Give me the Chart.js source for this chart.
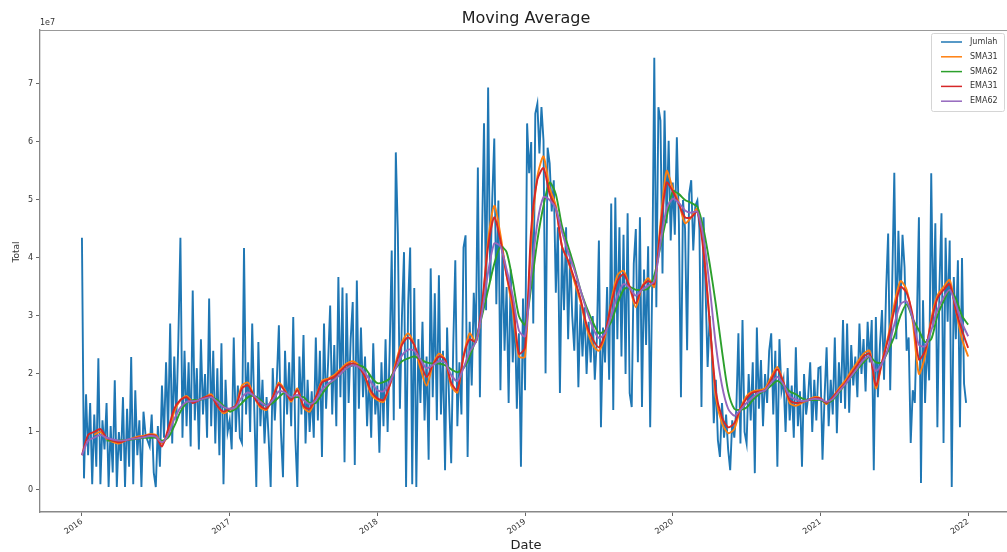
<!DOCTYPE html>
<html>
<head>
<meta charset="utf-8">
<script src="https://cdn.jsdelivr.net/npm/chart.js@4.4.0/dist/chart.umd.min.js"></script>
<style>
  html, body { margin: 0; padding: 0; background: #fff; }
  #wrap { width: 1007px; height: 552px; }
</style>
</head>
<body>
<div id="wrap"><canvas id="chart" width="1007" height="552"></canvas></div>
<script>
// Jumlah in units of 1e7, six readings per month
var jumlah2016 = [
    4.35, 0.2, 1.65, 0.6, 1.5, 0.1,
    1.3, 0.4, 2.27, 0.1, 1.2, 0.7,
    1.5, 0.05, 1.1, 0.3, 1.89, 0.05,
    1.0, 0.5, 1.6, 0.05, 1.4, 0.4,
    2.29, 0.1, 1.72, 0.6, 1.2, 0.05,
    1.35, 0.95, 0.85, 0.75, 1.3, 0.3,
    0.05, 1.1, 0.4, 1.8, 0.9, 2.2,
    1.0, 2.87, 0.8, 2.3, 1.2, 2.6,
    4.35, 0.9, 2.4, 1.1, 2.2, 0.75,
    3.44, 1.2, 2.1, 0.7, 2.6, 1.3,
    2.0, 0.9, 3.3, 1.1, 2.4, 0.8,
    2.1, 0.6, 2.53, 0.1, 1.9, 1.0
];
var jumlah2017 = [
    1.2, 0.7, 2.63, 1.0, 1.8, 0.9,
    0.81, 4.17, 1.3, 2.2, 1.0, 2.87,
    1.4, 0.05, 2.55, 1.1, 1.9, 0.8,
    1.6, 0.9, 0.05, 2.1, 1.2, 1.9,
    2.84, 1.0, 0.22, 2.4, 1.3, 2.2,
    1.1, 2.98, 0.9, 0.05, 2.3, 1.3,
    2.67, 0.8, 1.9, 1.0, 1.7, 0.9,
    2.63, 1.2, 2.4, 0.57, 2.87, 1.4,
    2.2, 3.18, 1.3, 2.5, 1.1, 3.67,
    1.6, 3.49, 0.48, 3.39, 1.5, 2.6,
    3.24, 0.43, 3.61, 1.4, 2.8, 1.6,
    2.3, 1.1, 2.0, 0.9, 2.53, 1.3
];
var jumlah2018 = [
    1.8, 0.64, 2.2, 1.1, 2.6, 1.0,
    2.4, 4.13, 1.2, 5.82, 4.42, 1.4,
    3.0, 4.1, 0.05, 3.2, 4.18, 0.1,
    3.48, 0.05, 2.6, 1.5, 2.9, 1.2,
    2.3, 0.52, 3.82, 1.6, 3.39, 1.2,
    3.7, 1.3, 2.4, 0.34, 2.8, 1.5,
    0.46, 2.5, 3.96, 1.1, 2.2, 1.3,
    4.18, 4.39, 0.57, 2.9, 1.8, 3.4,
    2.6, 5.56, 1.6, 4.3, 6.32, 3.1,
    6.94, 3.6, 5.0, 6.06, 3.2, 4.99,
    1.72, 4.2, 2.4, 3.5, 1.5, 3.8,
    2.2, 3.1, 1.4, 2.7, 0.4, 3.3
];
var jumlah2019 = [
    1.72, 6.32, 5.46, 6.0, 2.87, 6.49,
    6.66, 5.8, 6.6, 6.02, 2.01, 5.9,
    5.63, 4.8, 5.34, 3.4, 4.53, 1.67,
    4.2, 3.1, 4.53, 2.6, 4.08, 3.0,
    2.4, 3.61, 1.77, 3.2, 2.3, 3.15,
    2.0, 2.9, 2.2, 3.0, 1.9, 2.6,
    4.3, 1.08, 2.8, 2.2, 3.5, 1.9,
    4.94, 1.38, 5.04, 2.6, 4.53, 2.3,
    4.4, 2.0, 4.77, 1.67, 1.43, 3.9,
    4.5, 2.2, 4.7, 1.43, 3.8, 2.5,
    4.2, 1.08, 3.6, 7.45, 3.15, 6.6,
    6.37, 3.73, 6.54, 4.6, 6.02, 4.3
];
var jumlah2020 = [
    5.3, 4.4, 6.08, 4.6, 1.6, 5.0,
    4.5, 2.41, 5.1, 5.34, 4.13, 4.9,
    4.99, 4.5, 1.43, 4.7, 3.44, 2.12,
    3.0, 2.4, 1.15, 1.9, 0.86, 0.57,
    1.5, 0.9, 1.3, 0.7, 0.34, 1.2,
    0.9, 1.4, 2.7, 0.8, 2.93, 1.0,
    0.8, 2.0, 1.2, 2.2, 0.29, 2.8,
    1.4, 2.24, 1.1, 2.0, 1.5, 2.4,
    2.7, 1.3, 2.4, 0.4, 2.6, 1.7,
    1.9, 1.0, 2.1, 1.2, 1.8, 0.9,
    2.46, 1.1, 1.7, 0.4, 2.0, 1.3,
    1.6, 2.2, 1.0, 1.9, 1.2, 2.1
];
var jumlah2021 = [
    2.12, 0.52, 1.6, 2.46, 1.1, 1.9,
    1.3, 2.63, 0.98, 2.2, 1.5, 2.93,
    1.4, 2.87, 1.33, 2.5, 1.8, 2.3,
    1.6, 2.87, 2.0, 2.6, 1.7, 2.9,
    2.2, 2.93, 0.34, 2.98, 1.6, 2.5,
    3.1, 1.9, 3.44, 4.42, 1.72, 3.6,
    5.47, 2.6, 4.47, 3.2, 4.4, 3.84,
    2.4, 2.63, 0.81, 1.72, 1.5, 2.9,
    4.7, 0.12, 3.27, 1.5, 2.6, 1.89,
    5.46, 2.8, 4.6, 1.08, 3.5, 4.77,
    0.81, 4.35, 2.9, 4.3, 0.05, 3.67,
    2.6, 3.96, 1.08, 4.0, 1.83, 1.5
];
var years = [2016, 2017, 2018, 2019, 2020, 2021];
var jumlahByYear = [jumlah2016, jumlah2017, jumlah2018, jumlah2019, jumlah2020, jumlah2021];

// Moving averages, two readings per month from Jan 2016 to Jan 2022 (units of 1e7)
var sma31 = [
    null, null, 0.95, 1.0, 0.88, 0.83, 0.8, 0.85, 0.88, 0.92, 0.93, 0.96, 0.95, 0.8, 0.95, 1.35, 1.55, 1.62, 1.52, 1.55, 1.6, 1.65, 1.45, 1.32,
    1.38, 1.45, 1.8, 1.85, 1.6, 1.42, 1.38, 1.6, 1.85, 1.72, 1.52, 1.75, 1.42, 1.35, 1.6, 1.88, 1.92, 1.98, 2.08, 2.18, 2.22, 2.15, 1.95, 1.65,
    1.55, 1.52, 1.8, 2.2, 2.55, 2.7, 2.5, 2.1, 1.8, 2.15, 2.35, 2.25, 1.8, 1.68, 2.3, 2.7, 2.55, 3.1, 4.3, 4.9, 4.4, 3.7, 3.1, 2.3,
    2.3, 4.3, 5.4, 5.75, 5.2, 4.9, 4.2, 3.95, 3.6, 3.25, 2.8, 2.5, 2.4, 2.65, 3.25, 3.7, 3.78, 3.5, 3.15, 3.5, 3.65, 3.5, 4.6, 5.5,
    5.2, 4.95, 4.6, 4.7, 4.85, 4.2, 2.9, 1.6, 1.15, 0.98, 1.05, 1.4, 1.62, 1.7, 1.72, 1.75, 1.95, 2.12, 1.85, 1.5, 1.45, 1.5, 1.55, 1.6,
    1.58, 1.48, 1.6, 1.75, 1.88, 2.05, 2.2, 2.35, 2.4, 1.75, 2.2, 2.65, 3.2, 3.6, 3.45, 2.9, 2.0, 2.3, 2.95, 3.35, 3.5, 3.62, 3.1, 2.6, 2.3
];
var sma62 = [
    null, null, null, null, 0.85, 0.85, 0.85, 0.86, 0.87, 0.88, 0.9, 0.9, 0.9, 0.85, 0.9, 1.1, 1.35, 1.5, 1.55, 1.55, 1.58, 1.6, 1.55, 1.45,
    1.35, 1.4, 1.5, 1.6, 1.62, 1.55, 1.45, 1.5, 1.6, 1.68, 1.6, 1.6, 1.6, 1.5, 1.5, 1.65, 1.8, 1.9, 2.0, 2.1, 2.15, 2.15, 2.1, 1.95,
    1.84, 1.86, 1.92, 2.1, 2.22, 2.27, 2.3, 2.25, 2.2, 2.18, 2.18, 2.15, 2.08, 2.03, 2.1, 2.3, 2.6, 3.0, 3.45, 3.9, 4.2, 4.1, 3.6, 3.0,
    2.85, 3.5, 4.3, 4.9, 5.3, 5.1, 4.55, 4.2, 3.85, 3.45, 3.15, 2.9, 2.7, 2.75, 2.9, 3.2, 3.45, 3.5, 3.45, 3.45, 3.47, 3.7, 4.2, 4.7,
    5.15, 5.1, 5.0, 4.95, 4.88, 4.5, 3.9, 3.2, 2.4, 1.7, 1.4, 1.38, 1.42, 1.55, 1.65, 1.72, 1.8, 1.88, 1.8, 1.7, 1.65, 1.58, 1.55, 1.55,
    1.55, 1.5, 1.55, 1.68, 1.82, 1.95, 2.08, 2.2, 2.3, 2.2, 2.2, 2.4, 2.65, 3.0, 3.2, 2.95, 2.75, 2.55, 2.6, 3.0, 3.25, 3.45, 3.3, 3.0, 2.85
];
var ema31 = [
    0.6, 0.95, 1.0, 1.05, 0.9, 0.85, 0.82, 0.85, 0.88, 0.9, 0.92, 0.95, 0.93, 0.75, 1.05, 1.4, 1.55, 1.6, 1.5, 1.55, 1.6, 1.62, 1.45, 1.35,
    1.4, 1.45, 1.75, 1.8, 1.6, 1.45, 1.4, 1.6, 1.82, 1.7, 1.55, 1.72, 1.45, 1.4, 1.6, 1.85, 1.9, 1.95, 2.05, 2.15, 2.18, 2.12, 1.95, 1.7,
    1.58, 1.55, 1.8, 2.15, 2.5, 2.63, 2.5, 2.2, 1.95, 2.15, 2.3, 2.25, 1.85, 1.72, 2.3, 2.6, 2.55, 3.2, 4.2, 4.7, 4.3, 3.7, 3.22, 2.35,
    2.45, 4.5, 5.35, 5.55, 5.1, 4.85, 4.2, 3.95, 3.65, 3.3, 2.85, 2.6, 2.46, 2.7, 3.2, 3.6, 3.72, 3.5, 3.22, 3.5, 3.6, 3.55, 4.5, 5.3,
    5.15, 4.92, 4.7, 4.7, 4.8, 4.1, 2.9, 1.7, 1.25, 1.08, 1.15, 1.4, 1.58, 1.68, 1.7, 1.72, 1.9, 2.08, 1.85, 1.55, 1.5, 1.52, 1.55, 1.58,
    1.58, 1.5, 1.6, 1.72, 1.84, 2.0, 2.15, 2.3, 2.35, 1.8, 2.2, 2.6, 3.1, 3.5, 3.4, 3.0, 2.25, 2.4, 2.9, 3.3, 3.45, 3.55, 3.1, 2.75, 2.45
];
var ema62 = [
    0.6, 0.85, 0.9, 0.95, 0.9, 0.87, 0.85, 0.86, 0.88, 0.89, 0.91, 0.93, 0.92, 0.82, 0.95, 1.22, 1.42, 1.52, 1.53, 1.55, 1.58, 1.6, 1.52, 1.43,
    1.4, 1.43, 1.6, 1.68, 1.62, 1.52, 1.45, 1.55, 1.7, 1.68, 1.6, 1.64, 1.55, 1.48, 1.55, 1.72, 1.83, 1.9, 2.0, 2.1, 2.15, 2.12, 2.02, 1.85,
    1.72, 1.7, 1.85, 2.1, 2.32, 2.42, 2.4, 2.25, 2.1, 2.15, 2.22, 2.2, 1.98, 1.88, 2.1, 2.38, 2.55, 3.05, 3.75, 4.25, 4.2, 3.8, 3.35, 2.75,
    2.65, 3.7, 4.6, 5.05, 5.0, 4.85, 4.45, 4.1, 3.8, 3.45, 3.1, 2.8, 2.62, 2.7, 3.0, 3.35, 3.55, 3.48, 3.35, 3.45, 3.52, 3.6, 4.25, 4.85,
    5.02, 4.95, 4.82, 4.78, 4.8, 4.35, 3.5, 2.5, 1.8, 1.4, 1.28, 1.38, 1.5, 1.6, 1.68, 1.72, 1.85, 1.95, 1.82, 1.62, 1.56, 1.53, 1.55, 1.57,
    1.56, 1.52, 1.57, 1.7, 1.82, 1.96, 2.1, 2.24, 2.3, 2.05, 2.18, 2.45, 2.85, 3.2, 3.25, 2.95, 2.5, 2.48, 2.75, 3.1, 3.32, 3.45, 3.2, 2.88, 2.65
];

var xTicks = [2016, 2017, 2018, 2019, 2020, 2021, 2022];
var yTicks = [0, 1, 2, 3, 4, 5, 6, 7];

var seriesNames = ['Jumlah', 'SMA31', 'SMA62', 'EMA31', 'EMA62'];
var seriesColors = ['#1f77b4', '#ff7f0e', '#2ca02c', '#d62728', '#9467bd'];

// Jumlah readings spread evenly over each year
var jumlahPoints = [];
jumlahByYear.forEach(function (vals, yi) {
    vals.forEach(function (v, k) {
        jumlahPoints.push({ x: years[yi] + k / vals.length, y: v });
    });
});

// moving averages: one point every half month
function halfMonthPoints(vals) {
    return vals.map(function (v, j) { return { x: 2016 + j / 24, y: v }; });
}

var maLists = [sma31, sma62, ema31, ema62];
var datasets = [{
    label: seriesNames[0],
    data: jumlahPoints,
    borderColor: seriesColors[0],
    borderWidth: 1.9,
    pointRadius: 0,
    tension: 0,
    order: 5
}];
maLists.forEach(function (vals, i) {
    datasets.push({
        label: seriesNames[i + 1],
        data: halfMonthPoints(vals),
        borderColor: seriesColors[i + 1],
        borderWidth: 1.9,
        pointRadius: 0,
        tension: 0.25,
        spanGaps: false,
        order: 4 - i
    });
});

var FONT = '"DejaVu Sans", sans-serif';

// title, offset text, axis labels, top spine and legend, placed like the matplotlib figure
var decor = {
    id: 'decor',
    afterDraw: function (chart) {
        var ctx = chart.ctx, a = chart.chartArea;
        ctx.save();
        ctx.strokeStyle = '#999';
        ctx.lineWidth = 1.2;
        ctx.beginPath();
        ctx.moveTo(a.left, a.top + 0.5);
        ctx.lineTo(a.right, a.top + 0.5);
        ctx.stroke();

        ctx.fillStyle = '#222';
        ctx.textAlign = 'center';
        ctx.textBaseline = 'alphabetic';
        ctx.font = '16px ' + FONT;
        ctx.fillText('Moving Average', 526, 23);

        ctx.font = '13px ' + FONT;
        ctx.fillText('Date', 526, 549);

        ctx.font = '8px ' + FONT;
        ctx.textAlign = 'left';
        ctx.fillStyle = '#333';
        ctx.fillText('1e7', 40, 25);

        ctx.save();
        ctx.translate(19, 252);
        ctx.rotate(-Math.PI / 2);
        ctx.textAlign = 'center';
        ctx.font = '9px ' + FONT;
        ctx.fillText('Total', 0, 0);
        ctx.restore();

        // legend box
        var bx = 931.5, by = 33.5, bw = 73, bh = 78;
        ctx.fillStyle = 'rgba(255,255,255,0.85)';
        ctx.strokeStyle = '#d5d5d5';
        ctx.lineWidth = 1;
        ctx.beginPath();
        ctx.roundRect(bx, by, bw, bh, 2);
        ctx.fill();
        ctx.stroke();
        ctx.font = '8px ' + FONT;
        ctx.textBaseline = 'middle';
        seriesNames.forEach(function (name, i) {
            var yy = 42 + i * 14.8;
            ctx.strokeStyle = seriesColors[i];
            ctx.lineWidth = 1.5;
            ctx.beginPath();
            ctx.moveTo(941, yy);
            ctx.lineTo(962, yy);
            ctx.stroke();
            ctx.fillStyle = '#333';
            ctx.textAlign = 'left';
            ctx.fillText(name, 970, yy);
        });
        ctx.restore();
    }
};

new Chart(document.getElementById('chart'), {
    type: 'line',
    data: { datasets: datasets },
    options: {
        responsive: false,
        animation: false,
        layout: { padding: { top: 30, left: 0, right: 0, bottom: 0 } },
        plugins: {
            legend: { display: false },
            title: { display: false },
            tooltip: { enabled: false }
        },
        scales: {
            x: {
                type: 'linear',
                min: 2015.716,
                max: 2022.263,
                afterFit: function (s) { s.height = 40; },
                afterBuildTicks: function (s) {
                    s.ticks = xTicks.map(function (v) { return { value: v }; });
                },
                grid: { drawOnChartArea: false, drawTicks: true, tickLength: 4, color: '#666' },
                border: { display: true, color: '#888', width: 1.5 },
                ticks: {
                    autoSkip: false,
                    minRotation: 35,
                    maxRotation: 35,
                    padding: 1,
                    color: '#333',
                    font: { family: FONT, size: 8 },
                    callback: function (v) { return String(v); }
                }
            },
            y: {
                min: -0.38,
                max: 7.93,
                afterFit: function (s) { s.width = 40; },
                afterBuildTicks: function (s) {
                    s.ticks = yTicks.map(function (v) { return { value: v }; });
                },
                grid: { drawOnChartArea: false, drawTicks: true, tickLength: 4, color: '#666' },
                border: { display: true, color: '#888', width: 1.3 },
                ticks: {
                    padding: 3,
                    color: '#333',
                    font: { family: FONT, size: 8 },
                    callback: function (v) { return String(v); }
                }
            }
        }
    },
    plugins: [decor]
});
</script>
</body>
</html>
